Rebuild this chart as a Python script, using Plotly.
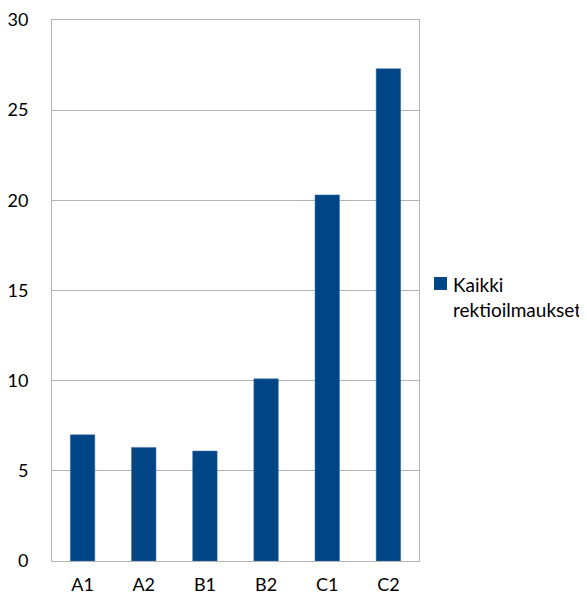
import plotly.graph_objects as go

categories = ["A1", "A2", "B1", "B2", "C1", "C2"]
values = [7.0, 6.3, 6.1, 10.1, 20.3, 27.3]
series_name = "Kaikki<br>rektioilmaukset"
y_ticks = [0, 5, 10, 15, 20, 25, 30]

bar_color = "#004586"
grid = "#b3b3b3"
font_family = "Lato"

fig = go.Figure()
fig.add_trace(go.Bar(
    x=categories, y=values, name=series_name,
    marker=dict(color=bar_color, line=dict(color="#3a6ea5", width=0.5)),
    showlegend=False,
))

# legend drawn as a swatch + text, placed like the original chart's legend
fig.add_shape(type="rect", xref="paper", yref="paper",
              x0=1.0409, x1=1.0763, y0=0.501, y1=0.525,
              fillcolor=bar_color, line=dict(width=0))
fig.add_annotation(xref="paper", yref="paper", x=1.0872, y=0.488,
                   xanchor="left", yanchor="middle", align="left",
                   text=series_name, showarrow=False,
                   font=dict(family=font_family, size=19, color="#000000"))

# the page body adds an 8px offset, so the figure is 8px smaller than the window
fig.update_layout(
    width=579, height=588,
    margin=dict(l=44, r=168, t=12, b=35),
    paper_bgcolor="white", plot_bgcolor="white",
    bargap=0.6,
    showlegend=False,
    font=dict(family=font_family, size=18, color="#000000"),
    xaxis=dict(showline=True, linecolor=grid, linewidth=1, mirror=True,
               ticks="", showgrid=False, ticklabelstandoff=7, automargin=False),
    yaxis=dict(range=[0, 30], tickvals=y_ticks, showgrid=True, gridcolor=grid,
               gridwidth=1, showline=True, linecolor=grid, linewidth=1, mirror=True,
               ticks="", zeroline=False, ticklabelstandoff=19, automargin=False),
)
fig.write_html("out.html")
